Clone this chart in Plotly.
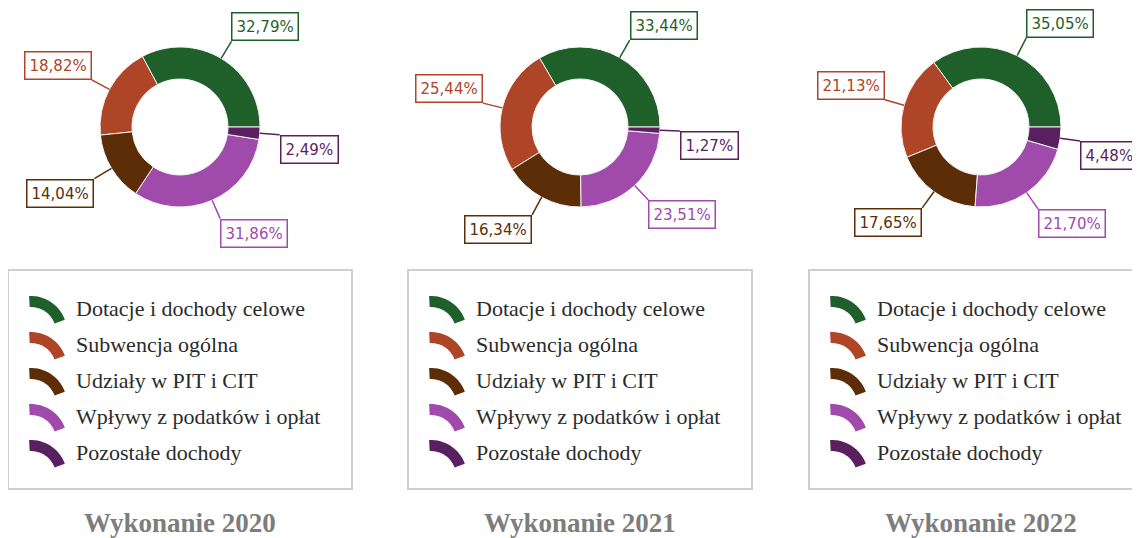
import math
import plotly.graph_objects as go

W, H = 1140, 538
OFF = 8  # page body margin offset of the rendered figure
FW, FH = W - OFF, H - OFF

categories = ["Dotacje i dochody celowe", "Subwencja ogólna", "Udziały w PIT i CIT",
              "Wpływy z podatków i opłat", "Pozostałe dochody"]
years = ["Wykonanie 2020", "Wykonanie 2021", "Wykonanie 2022"]
values_2020 = [32.79, 18.82, 14.04, 31.86, 2.49]
values_2021 = [33.44, 25.44, 16.34, 23.51, 1.27]
values_2022 = [35.05, 21.13, 17.65, 21.70, 4.48]
series = [values_2020, values_2021, values_2022]
colors = ["#1f5f29", "#ad4526", "#5c2d06", "#a04aab", "#5a1f5e"]

panel_x = [0, 400, 801]
PIE_CX, PIE_CY, R = 180, 127, 80
LEAD = 20


def X(px):
    return (px - OFF) / FW


def Y(py):
    return 1 - (py - OFF) / FH


fig = go.Figure()
shapes = []
annotations = []

for p, (vals, title) in enumerate(zip(series, years)):
    ox = panel_x[p]
    cx = ox + PIE_CX
    total = sum(vals)
    first_deg = vals[0] / total * 360
    fig.add_trace(go.Pie(
        labels=categories, values=vals, sort=False, direction="counterclockwise",
        rotation=90 - first_deg, hole=0.6, textinfo="none", showlegend=False,
        marker=dict(colors=colors, line=dict(color="#f4f4f4", width=1)),
        domain=dict(x=[X(cx - R), X(cx + R)], y=[Y(PIE_CY + R), Y(PIE_CY - R)]),
        name=title, hovertemplate="%{label}: %{value:.2f}%<extra></extra>",
    ))
    cum = 0.0
    for v, col in zip(vals, colors):
        th = math.radians((cum + v / 2) / total * 360)
        cum += v
        c, s = math.cos(th), math.sin(th)
        x0, y0 = cx + R * c, PIE_CY - R * s
        x1, y1 = cx + (R + LEAD) * c, PIE_CY - (R + LEAD) * s
        shapes.append(dict(type="line", xref="paper", yref="paper",
                           x0=X(x0), y0=Y(y0), x1=X(x1), y1=Y(y1),
                           line=dict(color=col, width=1.5)))
        annotations.append(dict(
            xref="paper", yref="paper", x=X(x1), y=Y(y1), showarrow=False,
            xanchor="left" if c >= 0 else "right",
            yanchor="bottom" if s > 0 else "top",
            text=f"{v:.2f}".replace(".", ",") + "%",
            font=dict(family="DejaVu Sans", size=15, color=col),
            bgcolor="white", bordercolor=col, borderwidth=1.5, borderpad=4,
        ))

    # legend box
    shapes.append(dict(type="rect", xref="paper", yref="paper",
                       x0=X(ox + 8), x1=X(ox + 352), y0=Y(489), y1=Y(270),
                       line=dict(color="#cfcfcf", width=2), fillcolor="rgba(0,0,0,0)"))
    for k, (cat, col) in enumerate(zip(categories, colors)):
        ry = 308 + 36 * k
        icx, icy = ox + 31, ry + 24
        ro, ri = 36, 25
        angs = [20 + (93 - 20) * i / 16 for i in range(17)]
        pts = [(icx + ro * math.cos(math.radians(a)), icy - ro * math.sin(math.radians(a))) for a in angs]
        pts += [(icx + ri * math.cos(math.radians(a)), icy - ri * math.sin(math.radians(a))) for a in reversed(angs)]
        path = "M " + " L ".join(f"{X(px):.5f},{Y(py):.5f}" for px, py in pts) + " Z"
        shapes.append(dict(type="path", xref="paper", yref="paper", path=path,
                           fillcolor=col, line=dict(width=0)))
        annotations.append(dict(
            xref="paper", yref="paper", x=X(ox + 74), y=Y(ry), showarrow=False,
            xanchor="left", yanchor="middle", text=cat,
            font=dict(family="Liberation Serif", size=22, color="#2b2b2b"),
        ))

    annotations.append(dict(
        xref="paper", yref="paper", x=X(ox + 180), y=Y(523), showarrow=False,
        xanchor="center", yanchor="middle", text=title,
        font=dict(family="Liberation Serif", size=27, color="#7d7d7d", weight="bold"),
    ))

fig.update_layout(
    width=FW, height=FH, margin=dict(l=0, r=0, t=0, b=0),
    paper_bgcolor="white", plot_bgcolor="white",
    shapes=shapes, annotations=annotations, showlegend=False,
)

fig.write_html("out.html")
